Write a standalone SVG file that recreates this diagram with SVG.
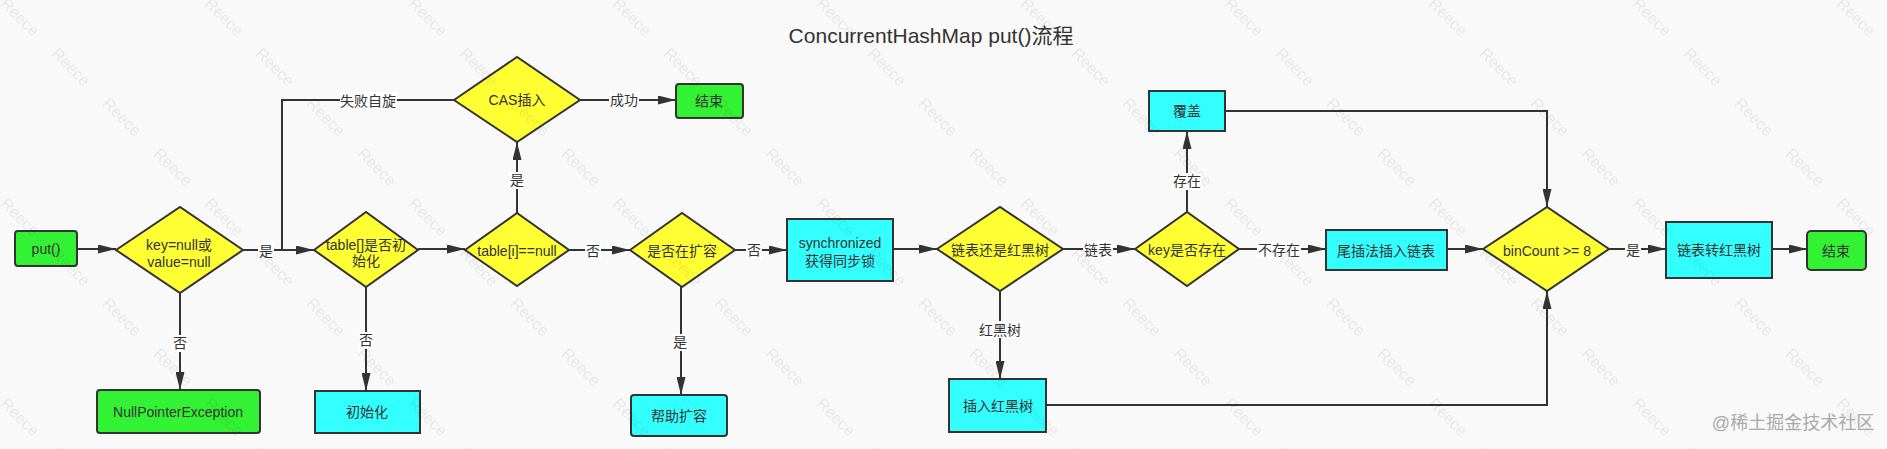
<svg xmlns="http://www.w3.org/2000/svg" width="1887" height="449" viewBox="0 0 1887 449">
<style>
.t{font-family:"Liberation Sans","Noto Sans CJK SC",sans-serif;font-size:14px;fill:#333;text-anchor:middle;dominant-baseline:central}
.title{font-family:"Liberation Sans","Noto Sans CJK SC",sans-serif;font-size:21px;fill:#333;text-anchor:middle;dominant-baseline:central}
.dia{fill:#ffff33;stroke:#333;stroke-width:2}
.cy{fill:#33ffff;stroke:#333;stroke-width:2}
.gr{fill:#33f233;stroke:#333;stroke-width:2}
.e{fill:none;stroke:#333;stroke-width:2;marker-end:url(#ah)}
.el{fill:none;stroke:#333;stroke-width:2}
.lb{fill:#fff}
.wm{font-family:"Liberation Sans",sans-serif;font-size:16px;fill:#000;fill-opacity:0.07;text-anchor:middle;dominant-baseline:central}
</style>
<defs>
<marker id="ah" viewBox="0 0 18 9" refX="18" refY="4.5" markerWidth="18" markerHeight="9" markerUnits="userSpaceOnUse" orient="auto">
<path d="M0,0 L18,4.5 L0,9 z" fill="#333"/>
</marker>
<pattern id="wmp" patternUnits="userSpaceOnUse" width="204" height="200">
<text class="wm" x="20" y="17" transform="rotate(45 20 17)">Reece</text>
<text class="wm" x="71" y="67" transform="rotate(45 71 67)">Reece</text>
<text class="wm" x="122" y="117" transform="rotate(45 122 117)">Reece</text>
<text class="wm" x="173" y="167" transform="rotate(45 173 167)">Reece</text>
<text class="wm" x="20" y="217" transform="rotate(45 20 217)">Reece</text>
</pattern>
</defs>
<rect width="1887" height="449" fill="#f9f9f9"/>
<text class="title" x="931" y="35">ConcurrentHashMap put()流程</text>

<g id="connectors">
<path class="e" d="M77,249 L116,249"/>
<path class="e" d="M243,250 L314,250"/>
<path class="e" d="M180,293 L180,390"/>
<path class="e" d="M366,287 L366,391"/>
<path class="e" d="M418,249 L465,249"/>
<path class="e" d="M517,213 L517,142"/>
<path class="e" d="M580,100 L676,100"/>
<path class="el" d="M454,100 L282,100 L282,250"/>
<path class="e" d="M569,250 L630,250"/>
<path class="e" d="M681,287 L681,395"/>
<path class="e" d="M735,250 L787,250"/>
<path class="e" d="M893,249 L937,249"/>
<path class="e" d="M1063,249 L1135,249"/>
<path class="e" d="M1000,291 L1000,379"/>
<path class="e" d="M1187,212 L1187,131"/>
<path class="e" d="M1239,249 L1326,249"/>
<path class="e" d="M1447,249 L1483,249"/>
<path class="e" d="M1225,111 L1547,111 L1547,207"/>
<path class="e" d="M1046,405 L1547,405 L1547,291"/>
<path class="e" d="M1609,249 L1666,249"/>
<path class="e" d="M1772,249 L1807,249"/>
<rect class="lb" x="258" y="242" width="16" height="17"/><text class="t" x="266" y="251">是</text>
<rect class="lb" x="172" y="335" width="16" height="17"/><text class="t" x="180" y="343">否</text>
<rect class="lb" x="358" y="332" width="16" height="17"/><text class="t" x="366" y="340">否</text>
<rect class="lb" x="509" y="172" width="16" height="17"/><text class="t" x="517" y="180">是</text>
<rect class="lb" x="609" y="92" width="30" height="17"/><text class="t" x="624" y="100">成功</text>
<rect class="lb" x="340" y="92" width="57" height="17"/><text class="t" x="368" y="101">失败自旋</text>
<rect class="lb" x="585" y="242" width="16" height="17"/><text class="t" x="593" y="251">否</text>
<rect class="lb" x="672" y="334" width="16" height="17"/><text class="t" x="680" y="342">是</text>
<rect class="lb" x="746" y="242" width="16" height="17"/><text class="t" x="754" y="250">否</text>
<rect class="lb" x="1083" y="241" width="30" height="17"/><text class="t" x="1098" y="250">链表</text>
<rect class="lb" x="978" y="321" width="44" height="17"/><text class="t" x="1000" y="330">红黑树</text>
<rect class="lb" x="1172" y="173" width="30" height="17"/><text class="t" x="1187" y="181">存在</text>
<rect class="lb" x="1257" y="241" width="44" height="17"/><text class="t" x="1279" y="250">不存在</text>
<rect class="lb" x="1625" y="241" width="16" height="17"/><text class="t" x="1633" y="250">是</text>
</g>

<g id="put"><rect class="gr" x="15" y="231" width="62" height="35" rx="3"/><text class="t" x="46" y="249">put()</text></g>
<g id="keynull"><polygon class="dia" points="116,250 180,207 243,250 180,293"/><text class="t" x="179" y="245">key=null或</text><text class="t" x="179" y="262">value=null</text></g>
<g id="npe"><rect class="gr" x="97" y="390" width="163" height="43" rx="3"/><text class="t" x="178" y="412">NullPointerException</text></g>
<g id="tableinit"><polygon class="dia" points="314,250 366,212 418,250 366,287"/><text class="t" x="366" y="245">table[]是否初</text><text class="t" x="366" y="261">始化</text></g>
<g id="init"><rect class="cy" x="315" y="391" width="105" height="42"/><text class="t" x="367" y="412">初始化</text></g>
<g id="tablei"><polygon class="dia" points="465,250 517,213 569,250 517,286"/><text class="t" x="517" y="251">table[i]==null</text></g>
<g id="cas"><polygon class="dia" points="454,100 517,57 580,100 517,142"/><text class="t" x="517" y="100">CAS插入</text></g>
<g id="end1"><rect class="gr" x="676" y="84" width="67" height="34" rx="3"/><text class="t" x="709" y="101">结束</text></g>
<g id="resizing"><polygon class="dia" points="630,250 682,213 735,250 682,287"/><text class="t" x="682" y="251">是否在扩容</text></g>
<g id="help"><rect class="cy" x="631" y="395" width="96" height="41" rx="3"/><text class="t" x="679" y="416">帮助扩容</text></g>
<g id="sync"><rect class="cy" x="787" y="219" width="106" height="62"/><text class="t" x="840" y="243">synchronized</text><text class="t" x="840" y="261">获得同步锁</text></g>
<g id="listortree"><polygon class="dia" points="937,249 1000,207 1063,249 1000,291"/><text class="t" x="1000" y="250">链表还是红黑树</text></g>
<g id="inserttree"><rect class="cy" x="949" y="379" width="97" height="53"/><text class="t" x="998" y="406">插入红黑树</text></g>
<g id="keyexists"><polygon class="dia" points="1135,249 1187,212 1239,249 1187,286"/><text class="t" x="1187" y="250">key是否存在</text></g>
<g id="cover"><rect class="cy" x="1149" y="91" width="76" height="40"/><text class="t" x="1187" y="111">覆盖</text></g>
<g id="tailinsert"><rect class="cy" x="1326" y="230" width="121" height="40"/><text class="t" x="1386" y="251">尾插法插入链表</text></g>
<g id="bincount"><polygon class="dia" points="1483,249 1547,207 1609,249 1547,291"/><text class="t" x="1547" y="251">binCount &gt;= 8</text></g>
<g id="treeify"><rect class="cy" x="1666" y="222" width="106" height="56"/><text class="t" x="1719" y="250">链表转红黑树</text></g>
<g id="end2"><rect class="gr" x="1807" y="231" width="59" height="39" rx="4"/><text class="t" x="1836" y="251">结束</text></g>

<rect width="1887" height="449" fill="url(#wmp)" pointer-events="none"/>
<text x="1793" y="423" font-family="Liberation Sans,Noto Sans CJK SC,sans-serif" font-size="18" fill="#aaa" text-anchor="middle" dominant-baseline="central">@稀土掘金技术社区</text>
</svg>
